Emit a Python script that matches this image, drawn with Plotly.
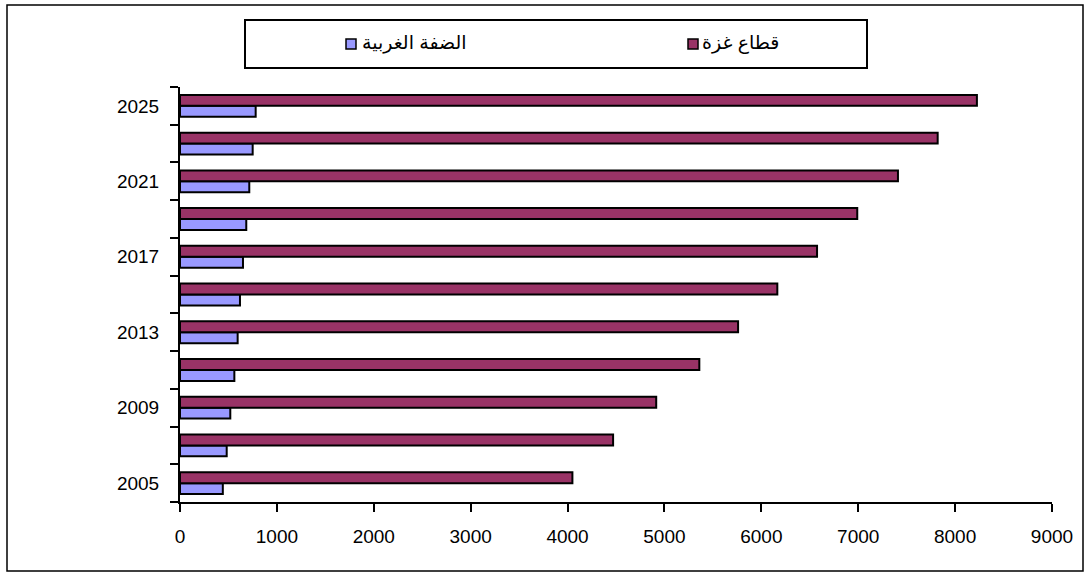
import plotly.graph_objects as go

# Projected population (thousands), every two years
years = [2005, 2007, 2009, 2011, 2013, 2015, 2017, 2019, 2021, 2023, 2025]
gaza = [4050, 4470, 4915, 5360, 5760, 6165, 6575, 6990, 7410, 7820, 8225]
west_bank = [442, 482, 519, 561, 595, 619, 650, 684, 715, 750, 781]

series_names = ["الضفة الغربية", "قطاع غزة"]
series_colors = ["#9999FF", "#993366"]

x_ticks = list(range(0, 9001, 1000))
y_labels = [2005, 2009, 2013, 2017, 2021, 2025]
y_bounds = list(range(2004, 2027, 2))

W, H = 1090, 574
X0, X1 = 180, 1052      # plot area, pixels
Y_TOP, Y_BOT = 87, 502

FONT = "Arial, Liberation Sans, DejaVu Sans, sans-serif"
FSIZE = 19


def px_x(p):
    return (p - X0) / (X1 - X0)


def px_y(p):
    return (Y_BOT - p) / (Y_BOT - Y_TOP)


fig = go.Figure()
for name, vals, col in zip(series_names, [west_bank, gaza], series_colors):
    fig.add_trace(go.Bar(
        y=years, x=vals, orientation="h", name=name,
        marker=dict(color=col, line=dict(color="black", width=2)),
        showlegend=False,
    ))

shapes = [
    # outer frame
    dict(type="rect", xref="paper", yref="paper",
         x0=px_x(7), x1=px_x(1083), y0=px_y(571), y1=px_y(5),
         line=dict(color="black", width=1.5), fillcolor="rgba(0,0,0,0)"),
    # legend box
    dict(type="rect", xref="paper", yref="paper",
         x0=px_x(245), x1=px_x(867), y0=px_y(68), y1=px_y(20),
         line=dict(color="black", width=2), fillcolor="white"),
]
annotations = []
legend_square_x = [351, 693]
legend_text_x = [360, 700]
for name, col, sx, tx in zip(series_names, series_colors, legend_square_x, legend_text_x):
    shapes.append(dict(type="rect", xref="paper", yref="paper",
                       x0=px_x(sx - 5), x1=px_x(sx + 5), y0=px_y(49), y1=px_y(39),
                       line=dict(color="black", width=1.5), fillcolor=col))
    annotations.append(dict(xref="paper", yref="paper", x=px_x(tx), y=px_y(43),
                            text=name, showarrow=False, xanchor="left", yanchor="middle",
                            font=dict(family=FONT, size=FSIZE, color="black")))

fig.update_layout(
    width=W, height=H,
    margin=dict(l=X0, r=W - X1, t=Y_TOP, b=H - Y_BOT, pad=0),
    paper_bgcolor="white", plot_bgcolor="white",
    barmode="group", bargap=0.42, bargroupgap=0,
    font=dict(family=FONT, size=FSIZE, color="black"),
    shapes=shapes, annotations=annotations,
)
fig.update_xaxes(
    range=[0, 9000], tickvals=x_ticks, ticktext=[str(v) for v in x_ticks],
    showgrid=False, zeroline=False, showline=True, linecolor="black", linewidth=2,
    ticks="outside", ticklen=8, tickwidth=2, tickcolor="black", ticklabelstandoff=8,
    tickfont=dict(family=FONT, size=FSIZE, color="black"),
)
fig.update_yaxes(
    range=[2004, 2026], tickvals=y_labels, ticktext=[str(v) for v in y_labels],
    showgrid=False, zeroline=False, showline=True, linecolor="black", linewidth=2,
    ticks="", ticklabelstandoff=15,
    minor=dict(tickvals=y_bounds, ticks="outside", ticklen=8, tickwidth=2,
               tickcolor="black", showgrid=False),
    tickfont=dict(family=FONT, size=FSIZE, color="black"),
)

fig.write_html("out.html")
